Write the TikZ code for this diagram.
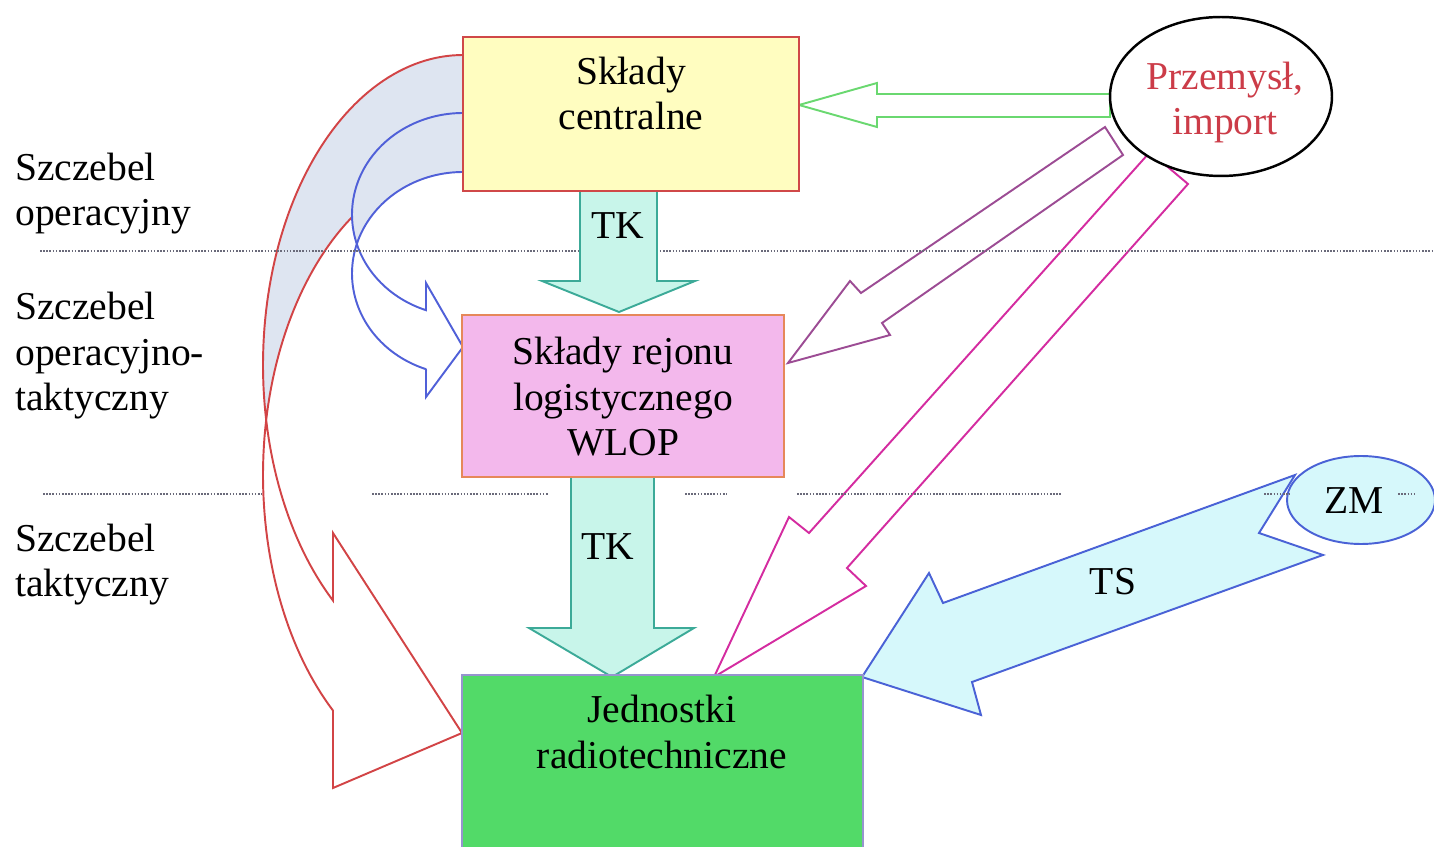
\documentclass[tikz,border=0pt]{standalone}
\usepackage{fontspec}
\setmainfont{Liberation Serif}
\usetikzlibrary{shapes.geometric}

\definecolor{boxyellow}{RGB}{255,253,192}
\definecolor{boxred}{RGB}{208,72,72}
\definecolor{boxpink}{RGB}{243,184,236}
\definecolor{boxorange}{RGB}{230,136,90}
\definecolor{boxgreen}{RGB}{82,218,104}
\definecolor{boxlilac}{RGB}{150,148,206}
\definecolor{tkfill}{RGB}{200,245,234}
\definecolor{tkline}{RGB}{60,170,152}
\definecolor{tsfill}{RGB}{214,248,251}
\definecolor{tsline}{RGB}{74,98,214}
\definecolor{curvered}{RGB}{210,68,70}
\definecolor{curveblue}{RGB}{80,96,216}
\definecolor{backshade}{RGB}{222,229,241}
\definecolor{importgreen}{RGB}{106,216,112}
\definecolor{importpurple}{RGB}{156,76,148}
\definecolor{importmagenta}{RGB}{212,44,160}
\definecolor{sourcered}{RGB}{204,60,72}
\definecolor{dotgray}{RGB}{106,106,122}

\begin{document}
\begin{tikzpicture}[x=0.02cm, y=-0.02cm,
  txt/.style={font=\fontsize{22.5}{26}\selectfont, inner sep=0pt},
  stockbox/.style={draw, line width=0.9pt, inner sep=0pt, rectangle},
  outline/.style={line width=1.1pt, line join=miter},
  level/.style={draw=dotgray, line width=0.9pt, dash pattern=on 0.9pt off 0.9pt},
  oval/.style={ellipse, inner sep=0pt}]

\useasboundingbox (0,0) rectangle (1434,847);
\clip (0,0) rectangle (1434,847);

% curved supply arrow from the central depots to the units (red)
\fill[backshade]
  plot[domain=270:169.78, samples=60, variable=\t] ({463+200*cos(\t)},{365+310*sin(\t)})
  -- plot[domain=190.22:270, samples=60, variable=\t] ({463+200*cos(\t)},{475+310*sin(\t)})
  -- cycle;
\draw[outline, curvered]
  plot[domain=270:130.54, samples=90, variable=\t] ({463+200*cos(\t)},{365+310*sin(\t)})
  -- (333,533) -- (462,733) -- (333,788) -- (333,711)
  -- plot[domain=130.54:270, samples=90, variable=\t] ({463+200*cos(\t)},{475+310*sin(\t)});

% curved supply arrow from the central depots to the regional depots (blue)
\fill[backshade]
  plot[domain=270:163.1, samples=60, variable=\t] ({463+111*cos(\t)},{214.5+101.5*sin(\t)})
  -- plot[domain=196.9:270, samples=60, variable=\t] ({463+111*cos(\t)},{273.5+101.5*sin(\t)})
  -- cycle;
\draw[outline, curveblue]
  plot[domain=270:109.47, samples=80, variable=\t] ({463+111*cos(\t)},{214.5+101.5*sin(\t)})
  -- (426,283) -- (463,347) -- (426,397) -- (426,369)
  -- plot[domain=109.47:270, samples=80, variable=\t] ({463+111*cos(\t)},{273.5+101.5*sin(\t)});

% hollow arrows from industry / import
\draw[outline, importgreen]
  (1110,94) -- (877,94) -- (877,83) -- (799,105) -- (877,127) -- (877,117) -- (1110,117) -- cycle;
\draw[outline, importpurple]
  (1105,127) -- (861,293) -- (850,281) -- (788,363) -- (890,335) -- (882,323) -- (1123,155) -- cycle;
\draw[outline, importmagenta]
  (1150,152) -- (809,533) -- (789,517) -- (714,677) -- (866,586) -- (847,568) -- (1188,184) -- cycle;

% ZM and its TS arrow
\node[oval, draw=tsline, line width=1.1pt, fill=tsfill, minimum width=2.96cm, minimum height=1.76cm] (zm) at (1361,500) {};
\draw[outline, draw=tsline, fill=tsfill]
  (862,677) -- (929,573) -- (943,603) -- (1295,475) -- (1259,533) -- (1323,555)
  -- (972,682) -- (981,715) -- cycle;

% level separators
\draw[level] (40,251) -- (1434,251);
\foreach \a/\b in {43/262, 372/548, 685/727, 797/1062, 1264/1290, 1398/1416}
  \draw[level] (\a,494) -- (\b,494);

% TK arrows
\draw[outline, draw=tkline, fill=tkfill]
  (580,191) -- (580,281) -- (542,281) -- (619,312) -- (695,281) -- (657,281) -- (657,191) -- cycle;
\draw[outline, draw=tkline, fill=tkfill]
  (571,477) -- (571,628) -- (529,628) -- (612,677) -- (694,628) -- (654,628) -- (654,477) -- cycle;

% depots and units
\node[stockbox, draw=boxred, fill=boxyellow, minimum width=6.72cm, minimum height=3.08cm] (sc) at (631,114) {};
\node[stockbox, draw=boxorange, fill=boxpink, minimum width=6.44cm, minimum height=3.24cm] (sr) at (623,396) {};
\node[stockbox, draw=boxlilac, fill=boxgreen, minimum width=8.02cm, minimum height=3.7cm] (jr) at (662.5,767.5) {};

% industry / import
\node[oval, draw=black, line width=1.4pt, fill=white, minimum width=4.44cm, minimum height=3.18cm] (pi) at (1221,96.5) {};

% texts (anchored at the baseline of their last line)
\node[txt, anchor=base west, align=left] (lvl1) at (15,226) {Szczebel\\operacyjny};
\node[txt, anchor=base west, align=left] (lvl2) at (15,411) {Szczebel\\operacyjno-\\taktyczny};
\node[txt, anchor=base west, align=left] (lvl3) at (15,597) {Szczebel\\taktyczny};

\node[txt, anchor=base, align=center] (sct) at (631,130) {Składy\\centralne};
\node[txt, anchor=base, align=center] (srt) at (623,456) {Składy rejonu\\logistycznego\\WLOP};
\node[txt, anchor=base, align=center] (jrt) at (662,768) {Jednostki\\radiotechniczne};
\node[txt, anchor=base, align=center, text=sourcered] (pit) at (1225,135) {Przemysł,\\import};

\node[txt] (tk1) at (618,226) {TK};
\node[txt] (tk2) at (608,547) {TK};
\node[txt] (ts) at (1113,582) {TS};
\node[txt] (zmt) at (1354,501) {ZM};

\end{tikzpicture}
\end{document}
